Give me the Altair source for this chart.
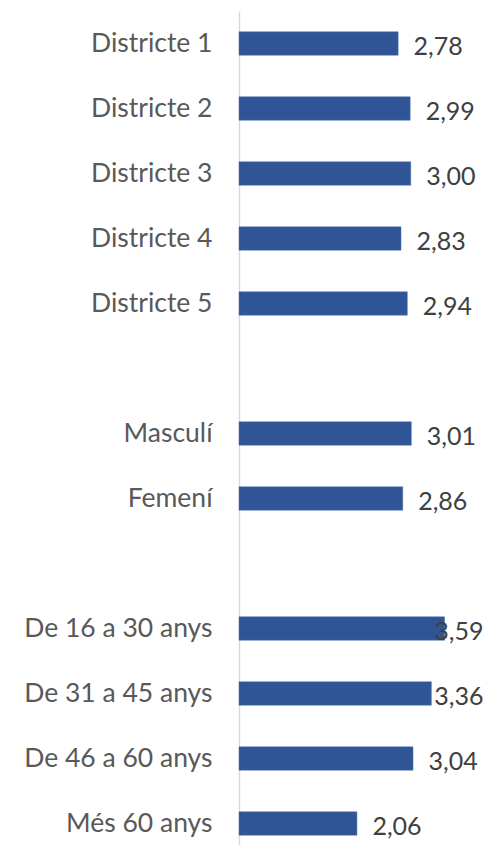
import altair as alt
import pandas as pd

categories = ["Districte 1", "Districte 2", "Districte 3", "Districte 4", "Districte 5",
              "Masculí", "Femení",
              "De 16 a 30 anys", "De 31 a 45 anys", "De 46 a 60 anys", "Més 60 anys"]
values = [2.78, 2.99, 3.00, 2.83, 2.94, 3.01, 2.86, 3.59, 3.36, 3.04, 2.06]
labels = ["2,78", "2,99", "3,00", "2,83", "2,94", "3,01", "2,86", "3,59", "3,36", "3,04", "2,06"]

domain_order = ["Districte 1", "Districte 2", "Districte 3", "Districte 4", "Districte 5",
                "gap1", "Masculí", "Femení", "gap2",
                "De 16 a 30 anys", "De 31 a 45 anys", "De 46 a 60 anys", "Més 60 anys"]

df = pd.DataFrame({"cat": categories, "val": values, "lab": labels})

FONT = "Lato"
W = 244
XMAX = W / 57.25

y_enc = alt.Y("cat:N", sort=domain_order,
              scale=alt.Scale(domain=domain_order, paddingInner=0.64, paddingOuter=0.32,
                              round=False, range=[0, 845]),
              axis=alt.Axis(title=None, ticks=False, domain=True, domainColor="#d9d9d9",
                            domainWidth=1.5, labelFont=FONT, labelFontSize=26.5,
                            labelColor="#595959", labelPadding=27, labelLimit=400,
                            labelExpr="indexof(datum.value, 'gap') == 0 ? '' : datum.value"))

xscale = alt.Scale(domain=[0, XMAX], nice=False, zero=True)

bars = alt.Chart(df).mark_bar(color="#2F5597", stroke="#4a72b0", strokeWidth=0.5).encode(
    x=alt.X("val:Q", scale=xscale, axis=None),
    y=y_enc,
)

text = alt.Chart(df).transform_calculate(
    lx="min(datum.val + 0.27, 3.41)"
).mark_text(align="left", baseline="middle", font=FONT, fontSize=25, color="#404040", dy=3).encode(
    x=alt.X("lx:Q", scale=xscale, axis=None),
    y=alt.Y("cat:N", sort=domain_order),
    text="lab:N",
)

chart = (bars + text).properties(
    width=W, height=834,
    autosize=alt.AutoSizeParams(type="none"),
    padding={"top": 3, "left": 231, "right": 0, "bottom": 0},
).configure(background="white").configure_view(stroke=None)

chart.save("out.html", embed_options={"renderer": "svg", "actions": False})
